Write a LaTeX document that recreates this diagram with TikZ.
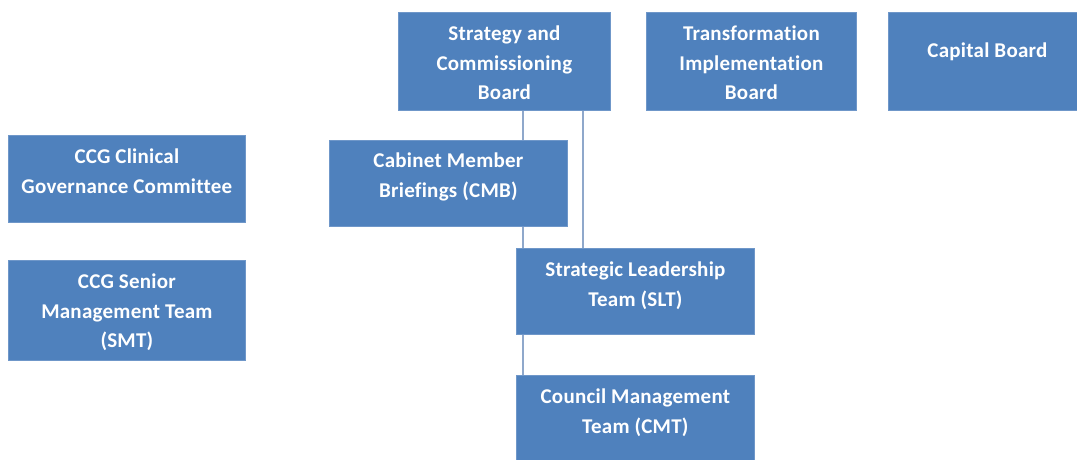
\documentclass[tikz,border=0pt]{standalone}
\usepackage{fontspec}
\setmainfont{Carlito}[LetterSpace=1.2,Ligatures=NoCommon]
\usetikzlibrary{calc}
\definecolor{boxblue}{HTML}{4F81BD}
\definecolor{boxedge}{HTML}{6F97C9}
\definecolor{linkblue}{HTML}{8FA8CB}
\tikzset{
  orgbox/.style={rectangle, fill=boxblue, draw=boxedge, line width=0.8pt, anchor=north west, inner sep=0pt},
  boxtext/.style={anchor=north, align=center, text=white, inner sep=0pt,
    font=\fontsize{21}{29.5}\selectfont\bfseries},
  conn/.style={draw=linkblue, line width=1.1pt}
}
\begin{document}
\begin{tikzpicture}[x=1pt,y=-1pt]
\useasboundingbox (0,0) rectangle (1077,459);
% boxes
\node[orgbox, minimum width=212pt, minimum height=98pt] (scb) at (398,12) {};
\node[orgbox, minimum width=210pt, minimum height=98pt] (tib) at (646,12) {};
\node[orgbox, minimum width=192pt, minimum height=98pt] (cap) at (888,12) {};
\node[orgbox, minimum width=237pt, minimum height=87pt] (ccgc) at (8,135) {};
\node[orgbox, minimum width=237pt, minimum height=100pt] (ccgs) at (8,260) {};
\node[orgbox, minimum width=238pt, minimum height=86pt] (cmb) at (329,140) {};
\node[orgbox, minimum width=238pt, minimum height=86pt] (slt) at (516,248) {};
\node[orgbox, minimum width=238pt, minimum height=88pt] (cmt) at (516,375) {};
% texts
\node[boxtext] (scbt) at ([yshift=-14pt]scb.north) {Strategy and\\Commissioning\\Board};
\node[boxtext] (tibt) at ([yshift=-14pt]tib.north) {Transformation\\Implementation\\Board};
\node[boxtext] (capt) at ([yshift=-31pt,xshift=3pt]cap.north) {Capital Board};
\node[boxtext] (ccgct) at ([yshift=-14pt]ccgc.north) {CCG Clinical\\Governance Committee};
\node[boxtext] (ccgst) at ([yshift=-14pt]ccgs.north) {CCG Senior\\Management Team\\(SMT)};
\node[boxtext] (cmbt) at ([yshift=-13pt]cmb.north) {Cabinet Member\\Briefings (CMB)};
\node[boxtext] (sltt) at ([yshift=-14pt]slt.north) {Strategic Leadership\\Team (SLT)};
\node[boxtext] (cmtt) at ([yshift=-14pt]cmt.north) {Council Management\\Team (CMT)};
% connectors
\coordinate (ca) at ([xshift=125pt]scb.south west);
\coordinate (cb) at ([xshift=185pt]scb.south west);
\draw[conn] (ca) -- (ca |- cmb.north);
\draw[conn] (ca |- cmb.south) -- (ca |- slt.north);
\draw[conn] (ca |- slt.south) -- (ca |- cmt.north);
\draw[conn] (cb) -- (cb |- slt.north);
\end{tikzpicture}
\end{document}
